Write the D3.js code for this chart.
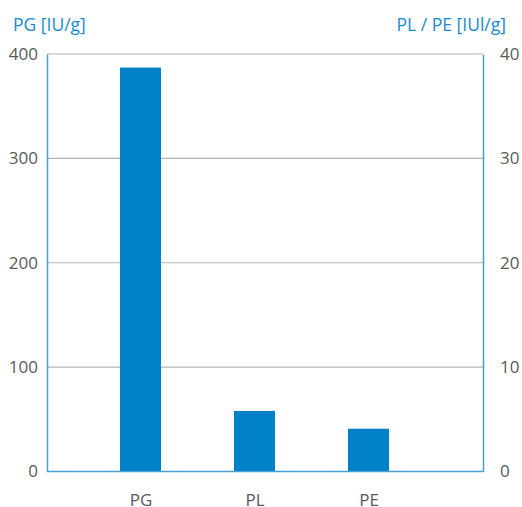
<!DOCTYPE html>
<html><head><meta charset="utf-8">
<script src="https://cdn.jsdelivr.net/npm/d3@7"></script>
<style>body{margin:0;background:#fff}svg{display:block}text{font-family:"Open Sans",sans-serif}</style>
</head><body>
<svg id="c" width="522" height="507"></svg>
<script>
const categories = ["PG", "PL", "PE"];
const axisOf = ["left", "right", "right"];
const values = [387, 5.8, 4.1];
const leftTicks = [0, 100, 200, 300, 400];
const rightTicks = [0, 10, 20, 30, 40];
const leftTitle = "PG [IU/g]";
const rightTitle = "PL / PE [IUl/g]";

const svg = d3.select("#c");
const L = 47, R = 483, T = 54, B = 471.5;
const yL = d3.scaleLinear().domain([0, 400]).range([B, T]);
const yR = d3.scaleLinear().domain([0, 40]).range([B, T]);
const x = d3.scalePoint().domain(categories).range([140.5, 368.5]);
const bw = 41;
const grey = "#595959", blue = "#1a8ad0", axisBlue = "#4a9fd8";

// gridlines
svg.append("g").selectAll("line").data(leftTicks.slice(1)).join("line")
  .attr("x1", L).attr("x2", R).attr("y1", d => yL(d)).attr("y2", d => yL(d))
  .attr("stroke", "#b3b3b3").attr("stroke-width", 1.2);

// bars
svg.append("g").selectAll("rect").data(categories).join("rect")
  .attr("x", d => x(d) - bw / 2).attr("width", bw)
  .attr("y", (d, i) => (axisOf[i] === "left" ? yL : yR)(values[i]))
  .attr("height", (d, i) => B - (axisOf[i] === "left" ? yL : yR)(values[i]))
  .attr("fill", "#0080c6");

// left axis
const ga = svg.append("g").attr("transform", `translate(${L},0)`)
  .call(d3.axisLeft(yL).tickValues(leftTicks).tickSize(0).tickPadding(9));
ga.select(".domain").attr("stroke", axisBlue).attr("stroke-width", 1.5);
ga.selectAll("text").attr("fill", grey).style("font-size", "17px");

// right axis
const gr = svg.append("g").attr("transform", `translate(${R},0)`)
  .call(d3.axisRight(yR).tickValues(rightTicks).tickSize(0).tickPadding(17));
gr.select(".domain").attr("stroke", axisBlue).attr("stroke-width", 1.5);
gr.selectAll("text").attr("fill", grey).style("font-size", "17px");

// bottom axis
const gb = svg.append("g").attr("transform", `translate(0,${B})`)
  .call(d3.axisBottom(x).tickSize(0).tickPadding(22));
gb.select(".domain").attr("d", `M${L},0H${R}`).attr("stroke", axisBlue).attr("stroke-width", 1.5);
gb.selectAll("text").attr("fill", grey).style("font-size", "17px");

// titles
svg.append("text").attr("x", 13).attr("y", 31).attr("fill", blue)
  .style("font-size", "17.5px").text(leftTitle);
svg.append("text").attr("x", 506).attr("y", 31).attr("fill", blue)
  .attr("text-anchor", "end").style("font-size", "17.5px").text(rightTitle);
</script>
</body></html>
